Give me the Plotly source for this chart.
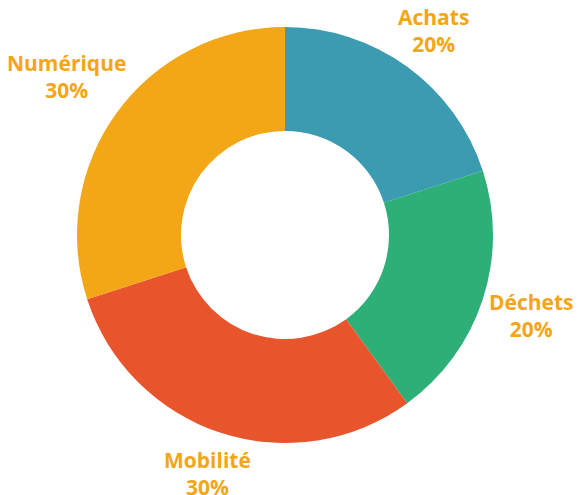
import numpy as np
import plotly.graph_objects as go

categories = ["Achats", "Déchets", "Mobilité", "Numérique"]
values = [20, 20, 30, 30]
colors = ["#3A9BB1", "#2FAF78", "#E8552C", "#F4A716"]

W, H = 588, 495
off = 8  # page body margin in the browser
cx, cy, R = 285 - off, 235 - off, 208  # pie centre and radius in figure pixels
char_w, box_h, gap = 12, 52, 3  # rough label box size

fig = go.Figure()
fig.add_trace(go.Pie(
    labels=categories,
    values=values,
    hole=0.5,
    sort=False,
    direction="clockwise",
    rotation=0,
    marker=dict(colors=colors, line=dict(width=0)),
    textinfo="none",
    hoverinfo="label+percent",
    domain=dict(x=[(cx - R) / W, (cx + R) / W], y=[1 - (cy + R) / H, 1 - (cy - R) / H]),
    showlegend=False,
))

# labels placed at the mid-angle of each slice, just outside the ring
total = sum(values)
start = 0
for cat, v in zip(categories, values):
    mid = (start + v / 2) / total * 2 * np.pi
    start += v
    s, c = np.sin(mid), np.cos(mid)
    extent = abs(s) * len(cat) * char_w / 2 + abs(c) * box_h / 2
    r = R + gap + extent
    px = cx + r * s
    py = cy - r * c
    fig.add_annotation(
        x=px / W, y=1 - py / H, xref="paper", yref="paper",
        text=f"<b>{cat}<br>{round(v / total * 100)}%</b>",
        showarrow=False, xanchor="center", yanchor="middle",
        font=dict(family="Open Sans", size=21, color="#F5A516"),
    )

fig.update_layout(
    width=W, height=H,
    margin=dict(l=0, r=0, t=0, b=0),
    paper_bgcolor="white",
    plot_bgcolor="white",
)

fig.write_html("out.html")
